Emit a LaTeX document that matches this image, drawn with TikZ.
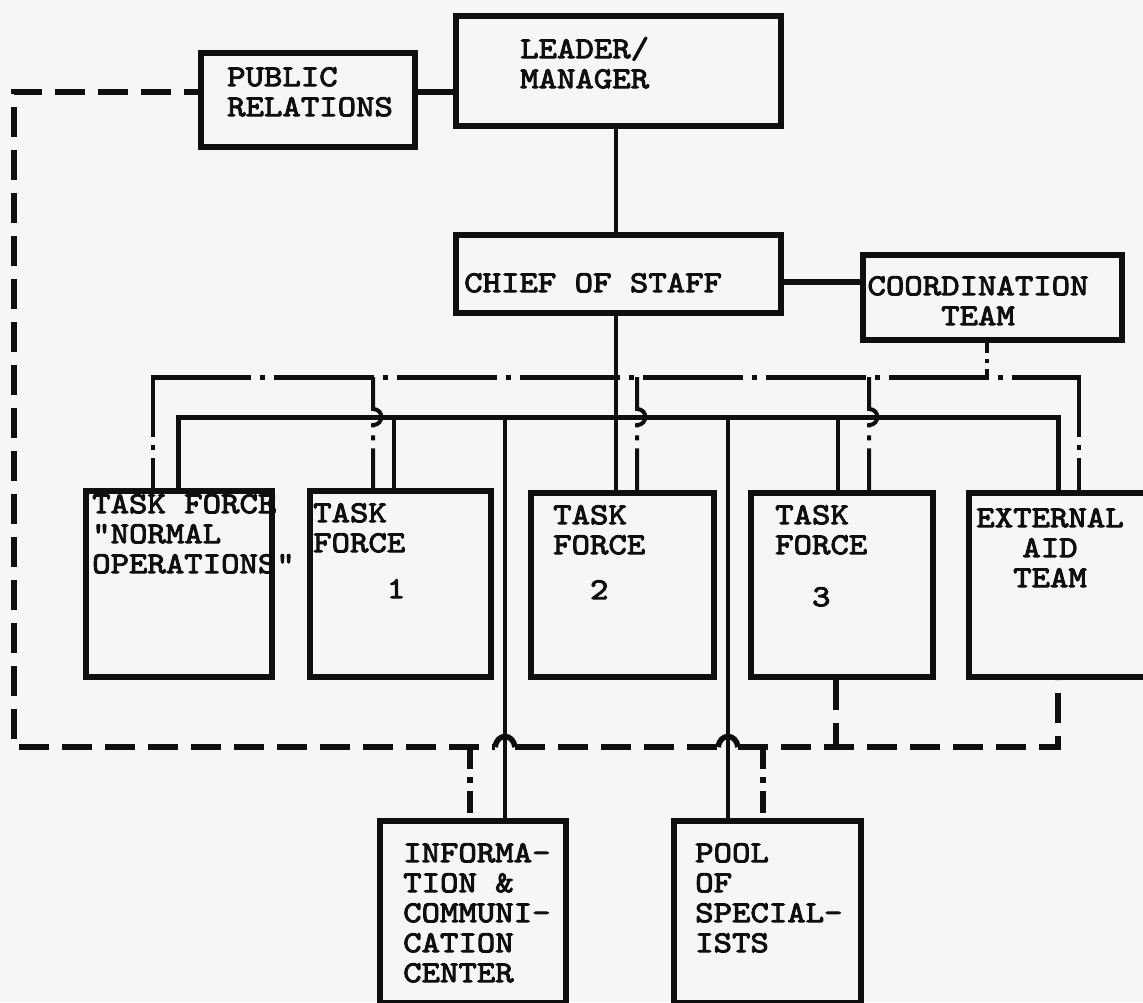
\documentclass[tikz,border=0pt]{standalone}
\usepackage{fontspec}
\newfontfamily\twfont{lmmono10-regular.otf}[FakeStretch=1.15,FakeBold=3]
\definecolor{paper}{RGB}{246,246,244}
\definecolor{ink}{RGB}{15,15,15}
\newcommand\capstrut{\rule{0pt}{25pt}}
\tikzset{
 box/.style={draw=ink, line width=6pt, inner sep=0pt, anchor=north west},
 lab/.style={anchor=north west, inner sep=0pt, align=left, text=ink, font=\twfont\fontsize{30.5}{30}\selectfont},
 labc/.style={lab, anchor=north, align=center},
 solidc/.style={draw=ink, line width=4pt},
 busc/.style={draw=ink, line width=5pt},
 ddh/.style={draw=ink, line width=5pt, dash pattern=on 100pt off 9pt on 5pt off 9pt},
 ddv/.style={draw=ink, line width=4pt, dash pattern=on 60pt off 8pt on 5pt off 8pt},
 dashc/.style={draw=ink, line width=5.5pt, dash pattern=on 30pt off 13pt},
 bumpc/.style={draw=ink, line width=5.5pt},
}
\begin{document}
\begin{tikzpicture}[x=1pt,y=-1pt]
\fill[paper] (0,0) rectangle (1143,1002);
\useasboundingbox (0,0) rectangle (1143,1002);
\clip (0,0) rectangle (1143,1002);

% boxes
\node[box, minimum width=214pt, minimum height=94pt] (pr) at (198,50) {};
\node[box, minimum width=325pt, minimum height=110pt] (leader) at (453,13) {};
\node[box, minimum width=325pt, minimum height=78pt] (chief) at (453,232) {};
\node[box, minimum width=259pt, minimum height=85pt] (coord) at (860,252) {};
\node[box, minimum width=186pt, minimum height=186pt] (tfn) at (83,488) {};
\node[box, minimum width=181pt, minimum height=186pt] (tf1) at (307,488) {};
\node[box, minimum width=183pt, minimum height=184pt] (tf2) at (528,490) {};
\node[box, minimum width=182pt, minimum height=184pt] (tf3) at (748,490) {};
\node[box, minimum width=200pt, minimum height=184pt] (eat) at (966,490) {};
\node[box, minimum width=186pt, minimum height=182pt] (info) at (377,818) {};
\node[box, minimum width=187pt, minimum height=182pt] (pool) at (671,818) {};

% texts
\node[lab] (tpr) at (227,61) {\capstrut PUBLIC\\RELATIONS};
\node[lab] (tleader) at (520,33) {\capstrut LEADER/\\MANAGER};
\node[lab] (tchief) at (464,267) {\capstrut CHIEF OF STAFF};
\node[labc] (tcoord) at (978,270) {\capstrut COORDINATION\\TEAM};
\node[lab] (ttfn) at (92,488) {\capstrut TASK FORCE\\"NORMAL\\OPERATIONS"};
\node[lab] (ttf1) at (313,497) {\capstrut TASK\\FORCE\\[16pt]\phantom{0000}1};
\node[lab] (ttf2) at (553,499) {\capstrut TASK\\FORCE\\[15pt]\phantom{00}2};
\node[lab] (ttf3) at (775,499) {\capstrut TASK\\FORCE\\[22pt]\phantom{00}3};
\node[labc] (teat) at (1050,502) {\capstrut EXTERNAL\\AID\\TEAM};
\node[lab] (tinfo) at (403,837) {\capstrut INFORMA-\\TION \&\\COMMUNI-\\CATION\\CENTER};
\node[lab] (tpool) at (695,837) {\capstrut POOL\\OF\\SPECIAL-\\ISTS};

% junction coordinates
\coordinate (busL) at (178,417);
\coordinate (busR) at (1058,417);
\coordinate (ddL) at (153,377);
\coordinate (ddR) at (1079,377);
\coordinate (dsL) at (14,747);
\coordinate (dsR) at (1058,747);

% solid connectors
\draw[bumpc] (pr.east |- 0,92) -- (leader.west |- 0,92);
\draw[solidc] (leader.south -| 616,0) -- (chief.north -| 616,0);
\draw[solidc] (chief.south -| 616,0) -- (tf2.north -| 616,0);
\draw[bumpc] (chief.east |- 0,282) -- (coord.west |- 0,282);
\draw[busc] (tfn.north -| busL) -- (busL) -- (busR) -- (eat.north -| busR);
\draw[solidc] (394,417) -- (tf1.north -| 394,0);
\draw[solidc] (838,417) -- (tf3.north -| 838,0);
\draw[solidc] (505,417) -- (info.north -| 505,0);
\draw[solidc] (728,417) -- (pool.north -| 728,0);

% dash-dot coordination net
\draw[ddh] (151,377) -- (1081,377);
\draw[ddv, dash pattern=on 10pt off 6pt on 4pt off 6pt] (coord.south -| 987,0) -- (987,377);
\draw[ddv] (ddL) -- (tfn.north -| ddL);
\draw[ddv] (ddR) -- (eat.north -| ddR);
\draw[ddv] (373,377) -- (373,409) .. controls (384,409) and (384,425) .. (373,425) -- (tf1.north -| 373,0);
\draw[ddv] (637,377) -- (637,409) .. controls (648,409) and (648,425) .. (637,425) -- (tf2.north -| 637,0);
\draw[ddv] (869,377) -- (869,409) .. controls (880,409) and (880,425) .. (869,425) -- (tf3.north -| 869,0);

% dashed public relations net
\draw[dashc, dash phase=16pt] (pr.west |- 0,92) -- (14,92) -- (dsL) -- (495,747);
\draw[bumpc] (495,747) .. controls (497,733) and (513,733) .. (515,747);
\draw[dashc] (515,747) -- (718,747);
\draw[bumpc] (718,747) .. controls (720,733) and (736,733) .. (738,747);
\draw[dashc] (738,747) -- (dsR) -- (eat.south -| dsR);
\draw[dashc] (tf3.south -| 836,0) -- (836,747);
\draw[dashc, dash pattern=on 22pt off 8pt on 6pt off 8pt] (470,747) -- (info.north -| 470,0);
\draw[dashc, dash pattern=on 22pt off 8pt on 6pt off 8pt] (763,747) -- (pool.north -| 763,0);
\end{tikzpicture}
\end{document}
